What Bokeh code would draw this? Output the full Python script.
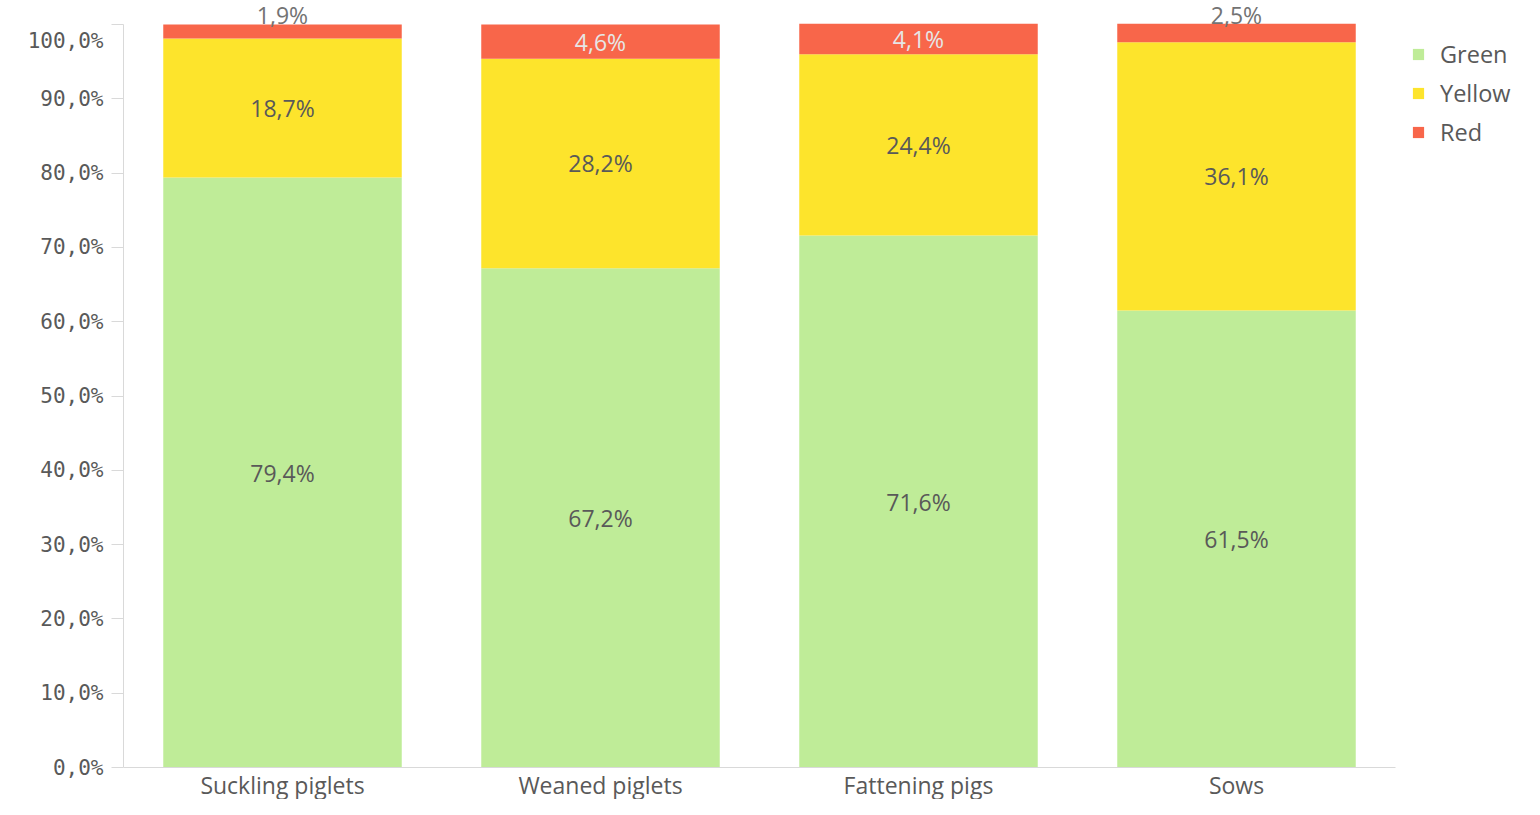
from bokeh.plotting import figure
from bokeh.models import ColumnDataSource, FixedTicker, Legend, Range1d
from bokeh.core.properties import value
from bokeh.embed import file_html
from bokeh.resources import INLINE

categories = ["Suckling piglets", "Weaned piglets", "Fattening pigs", "Sows"]
green = [79.4, 67.2, 71.6, 61.5]
yellow = [18.7, 28.2, 24.4, 36.1]
red = [1.9, 4.6, 4.1, 2.5]
series_names = ["Green", "Yellow", "Red"]
series_colors = ["#bfec98", "#fde42c", "#f8664a"]
y_ticks = [0, 10, 20, 30, 40, 50, 60, 70, 80, 90, 100]
y_tick_labels = ["0,0%", "10,0%", "20,0%", "30,0%", "40,0%", "50,0%",
                 "60,0%", "70,0%", "80,0%", "90,0%", "100,0%"]

FONT = "Open Sans"
TXT = "#595959"

W, H = 1524, 799
FRAME_LEFT = 123
Y0_PX, Y100_PX = 767, 24
px_per_unit = (Y0_PX - Y100_PX) / 100.0
cat_px = 318.0
x_end = -0.5 + (W - FRAME_LEFT) / cat_px
y_start = -(H - Y0_PX) / px_per_unit
y_end = 100 + Y100_PX / px_per_unit

xs = list(range(len(categories)))
src = ColumnDataSource(dict(x=xs, Green=green, Yellow=yellow, Red=red))

p = figure(width=W, height=H, output_backend="svg", toolbar_location=None,
           x_range=Range1d(-0.5, x_end), y_range=Range1d(y_start, y_end),
           min_border_left=FRAME_LEFT, min_border_right=0, min_border_top=0,
           min_border_bottom=0)
p.outline_line_color = None
p.grid.visible = False
p.background_fill_color = "white"
p.border_fill_color = "white"

renderers = p.vbar_stack(series_names, x="x", width=0.75, source=src,
                         color=series_colors, line_color=None)

# Legend
legend = Legend(items=[(n, [r]) for n, r in zip(series_names, renderers)],
                location=(1288, H - 148), orientation="vertical")
legend.border_line_color = None
legend.background_fill_alpha = 0
legend.padding = 0
legend.margin = 0
legend.glyph_width = 14
legend.glyph_height = 14
legend.label_standoff = 15
legend.label_height = 32
legend.spacing = 7
legend.label_text_font = FONT
legend.label_text_font_size = "23.5px"
legend.label_text_color = TXT
p.add_layout(legend)

# X axis fixed at y = 0
xa = p.xaxis[0]
xa.fixed_location = 0
xa.ticker = FixedTicker(ticks=xs)
xa.major_label_overrides = {i: c for i, c in enumerate(categories)}
xa.bounds = (-0.5, 3.5)
xa.axis_line_color = "#d9d9d9"
xa.major_tick_line_color = None
xa.minor_tick_line_color = None
xa.major_label_standoff = -5
xa.major_label_text_font = FONT
xa.major_label_text_font_size = "23px"
xa.major_label_text_color = TXT

ya = p.yaxis[0]
ya.ticker = FixedTicker(ticks=y_ticks)
ya.bounds = (0, 100)
ya.axis_line_color = "#d9d9d9"
ya.major_tick_line_color = "#d9d9d9"
ya.major_tick_out = 12
ya.major_tick_in = 0
ya.minor_tick_line_color = None
ya.major_label_standoff = 8
ya.major_label_text_font = "DejaVu Sans Mono"
ya.major_label_text_font_size = "21px"
ya.major_label_text_color = TXT
overrides = {t: lab for t, lab in zip(y_ticks, y_tick_labels)}
overrides[100] = "\n" + y_tick_labels[-1]
ya.major_label_overrides = overrides

def fmt(v):
    return f"{v:.1f}%".replace(".", ",")

in_x, in_y, in_t, in_c = [], [], [], []
top_x, top_y, top_t = [], [], []
for i in xs:
    g, yv, r = green[i], yellow[i], red[i]
    in_x += [i, i]
    in_y += [g / 2, g + yv / 2]
    in_t += [fmt(g), fmt(yv)]
    in_c += [TXT, TXT]
    if r >= 3:
        in_x.append(i); in_y.append(g + yv + r / 2); in_t.append(fmt(r)); in_c.append("#e6e6e6")
    else:
        top_x.append(i); top_y.append(100); top_t.append(fmt(r))

p.text(x=in_x, y=in_y, text=in_t, text_color=in_c, text_align="center",
       text_baseline="middle", text_font=value(FONT), text_font_size="23px")
p.text(x=top_x, y=top_y, text=top_t, text_color="#737373", text_align="center",
       text_baseline="middle", y_offset=-10, text_font=value(FONT), text_font_size="23px")

open("out.html", "w").write(file_html(p, INLINE))
